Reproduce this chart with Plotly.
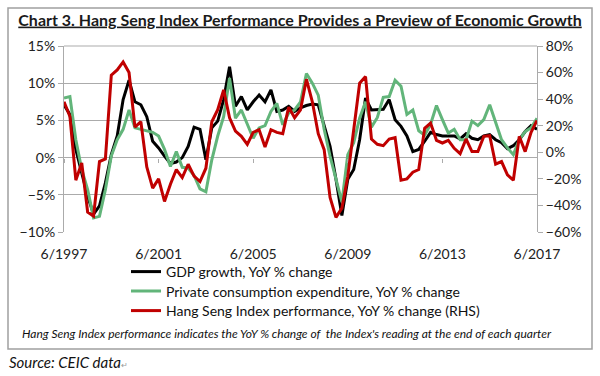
import plotly.graph_objects as go

quarters = list(range(81))  # quarterly, 6/1997 .. 6/2017
tick_pos = [0, 16, 32, 48, 64, 80]
tick_labels = ["6/1997", "6/2001", "6/2005", "6/2009", "6/2013", "6/2017"]

gdp = [7.1, 5.8, 1.1, -2.1, -5.2, -7.6, -6.5, -3.4, 0.4, 2.9,
       7.8, 10.4, 7.5, 7.1, 5.5, 2.2, 1.3, 0.2, -0.8, -0.6,
       0.0, 1.5, 4.1, 3.8, -0.3, 4.0, 4.9, 7.8, 12.2, 6.9,
       8.2, 6.4, 7.5, 8.4, 7.5, 9.1, 6.2, 6.4, 6.9, 6.2,
       6.7, 7.0, 7.2, 7.1, 4.4, 1.5, -2.9, -7.8, -2.9, -1.6,
       2.4, 8.0, 6.4, 6.4, 6.5, 7.8, 5.1, 4.2, 2.9, 0.8,
       1.1, 2.2, 3.4, 3.1, 2.9, 2.9, 2.9, 2.5, 3.2, 2.6,
       2.4, 2.9, 3.1, 2.4, 2.0, 1.2, 1.6, 2.4, 3.5, 4.3, 3.8]

pce = [8.0, 8.2, 2.4, -1.6, -4.3, -8.1, -7.9, -4.3, 0.2, 2.4,
       3.8, 6.4, 4.0, 3.8, 3.7, 3.4, 2.9, 1.1, -1.2, 0.8,
       -1.3, -1.4, -2.4, -4.2, -4.6, -0.3, 2.9, 5.5, 10.7, 5.3,
       6.4, 4.6, 2.6, 4.0, 4.3, 6.2, 7.3, 4.4, 6.0, 6.4,
       7.5, 11.3, 10.0, 8.4, 3.8, 0.2, -2.9, -6.0, 0.4, 2.0,
       5.3, 7.5, 4.1, 5.4, 8.1, 8.2, 10.4, 9.6, 5.8, 6.4,
       3.6, 3.0, 4.5, 7.0, 5.1, 3.3, 3.8, 2.4, 2.4, 4.9,
       4.3, 5.1, 7.1, 4.6, 2.4, 1.3, 0.4, 2.4, 3.5, 4.0, 5.3]

hsi = [38, 27, -21, -8, -45, -48, -7, -5, 58, 62,
       68, 60, 19, 23, -11, -27, -20, -37, -24, -13,
       -19, -9, -18, -22, -12, 23, 32, 47, 26, 16,
       12, 6, 15, 17, 4, 17, 15, 14, 34, 26,
       32, 55, 38, 14, 2, -34, -49, -42, -18, 17,
       52, 57, 10, 6, 5, 10, 11, -21, -20, -15,
       -13, 18, 22, 9, 7, 9, 3, -1, 10, 0.5,
       0.5, 12, 12.5, -9, -7, -17, -21, 12, 0.5, 15, 24]

GREEN = "#62B57A"
RED = "#C00000"
GRID = "#ABABAB"
FONT = "Lato"

fig = go.Figure()
fig.add_trace(go.Scatter(x=quarters, y=gdp, mode="lines", name="GDP growth, YoY % change",
                         line=dict(color="black", width=3), legend="legend"))
fig.add_trace(go.Scatter(x=quarters, y=pce, mode="lines",
                         name="Private consumption expenditure, YoY % change",
                         line=dict(color=GREEN, width=3), legend="legend2"))
fig.add_trace(go.Scatter(x=quarters, y=hsi, mode="lines", yaxis="y2",
                         name="Hang Seng Index performance, YoY % change (RHS)",
                         line=dict(color=RED, width=3), legend="legend3"))
# invisible trace to carry the tick-mark axis at the zero line
fig.add_trace(go.Scatter(x=quarters, y=gdp, xaxis="x2", mode="lines", opacity=0,
                         showlegend=False, hoverinfo="skip", line=dict(width=0)))

L, R, T, B = 64, 63, 46, 144
W, H = 600, 376
ph = H - T - B
pw = W - L - R

def px_x(p):
    return (p - L) / pw

def px_y(p):
    return (H - B - p) / ph

def leg(ypx):
    return dict(x=px_x(126), y=px_y(ypx), xanchor="left", yanchor="middle",
                orientation="v", bgcolor="rgba(0,0,0,0)",
                font=dict(size=14, family=FONT, color="#111"), itemwidth=30)

fig.update_layout(
    width=W, height=H,
    margin=dict(l=L, r=R, t=T, b=B),
    paper_bgcolor="white", plot_bgcolor="white",
    font=dict(family=FONT, size=13, color="#222222"),
    title=dict(text="<u><b>Chart 3. Hang Seng Index Performance Provides a Preview of Economic Growth</b></u>",
               x=0.5, xanchor="center", y=1 - 20 / H, yanchor="middle",
               font=dict(family=FONT, size=16, color="#1a1a1a")),
    xaxis=dict(range=[0, 80], tickvals=tick_pos, ticktext=tick_labels, showgrid=False,
               zeroline=False, showline=False, ticks="", ticklabelstandoff=12,
               tickfont=dict(size=14, family=FONT, color="#222")),
    xaxis2=dict(range=[0, 80], overlaying="x", anchor="free", position=px_y(158),
                tickvals=tick_pos, showticklabels=False, ticks="outside", ticklen=4,
                tickcolor=GRID, showgrid=False, zeroline=False, showline=False),
    yaxis=dict(range=[-10, 15], dtick=5, ticksuffix="%", showgrid=True, gridcolor=GRID,
               gridwidth=1, zeroline=False, showline=True, linecolor=GRID, ticks="outside",
               ticklen=5, tickcolor=GRID, tickfont=dict(size=14, family=FONT, color="#222")),
    yaxis2=dict(range=[-60, 80], dtick=20, ticksuffix="%", overlaying="y", side="right",
                showgrid=False, zeroline=False, showline=True, linecolor=GRID, ticks="outside",
                ticklen=5, tickcolor=GRID, tickfont=dict(size=14, family=FONT, color="#222")),
    legend=leg(272),
    legend2=leg(291.5),
    legend3=leg(311),
    showlegend=True,
)

# top border of plot area
fig.add_shape(type="line", xref="paper", yref="paper", x0=0, x1=1, y0=1, y1=1,
              line=dict(color=GRID, width=1))
# outer frame
fig.add_shape(type="rect", xref="paper", yref="paper",
              x0=px_x(8), x1=px_x(592), y0=px_y(349), y1=px_y(8),
              line=dict(color="#A0A0A0", width=1.5), layer="below")

fig.add_annotation(xref="paper", yref="paper", x=px_x(20), y=px_y(333), xanchor="left",
                   yanchor="middle", showarrow=False,
                   text="<i>Hang Seng Index performance indicates the YoY % change of  the Index's reading at the end of each quarter</i>",
                   font=dict(size=12, family=FONT, color="#111"))
fig.add_annotation(xref="paper", yref="paper", x=px_x(7), y=px_y(362), xanchor="left",
                   yanchor="middle", showarrow=False,
                   text="<i>Source: CEIC data</i><span style='font-size:8px;color:#999'>↵</span>",
                   font=dict(size=15, family=FONT, color="#111"))

fig.write_html("out.html", config={"displayModeBar": False},
               post_script="document.body.style.margin='0';")
